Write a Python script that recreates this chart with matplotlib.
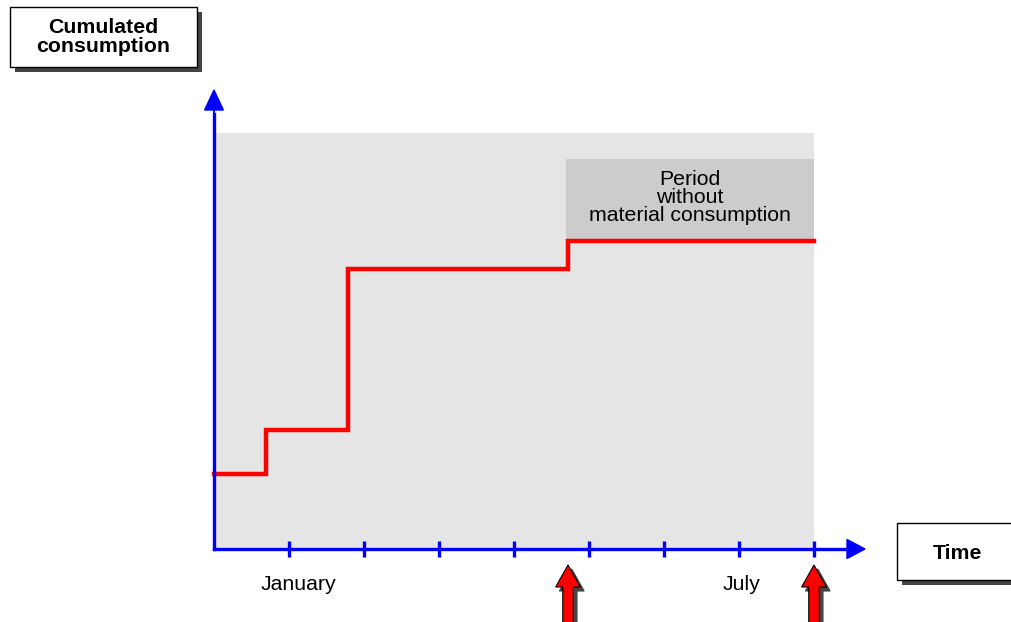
import matplotlib.pyplot as plt
from matplotlib.patches import Rectangle, FancyArrow

plt.rcParams["font.family"] = ["Liberation Sans", "DejaVu Sans"]

# x in months from the origin, y in arbitrary consumption units
step_x = [0.0, 0.69, 1.79, 4.72, 8.0]
step_y = [7.5, 11.9, 28.0, 30.8, 30.8]
tick_x = [1, 2, 3, 4, 5, 6, 7, 8]
month_labels = ["January", "July"]
month_pos = [1.12, 7.03]
order_x = [4.72, 8.0]  # red arrows
period_x = (4.69, 8.0)
period_y = (30.9, 39.0)
area_top = 41.6

W, H = 1011, 622
fig = plt.figure(figsize=(W / 100, H / 100), dpi=100)
ax = fig.add_axes([0, 0, 1, 1])
ax.set_xlim(-214 / 75, (W - 214) / 75)
ax.set_ylim(-7.3, 54.9)
ax.axis("off")

# grey background area
ax.add_patch(Rectangle((0, 0), 8, area_top, facecolor="#e5e5e5", edgecolor="none", zorder=0))

# period without consumption
ax.add_patch(Rectangle((period_x[0], period_y[0]), period_x[1] - period_x[0],
                       period_y[1] - period_y[0], facecolor="#cccccc",
                       edgecolor="none", zorder=1))
ax.text(sum(period_x) / 2, sum(period_y) / 2 + 0.2,
        "Period\nwithout\nmaterial consumption",
        ha="center", va="center", fontsize=15.3, linespacing=0.96, zorder=2)

# cumulated consumption step line
ax.step(step_x, step_y, where="post", color="red", lw=3.2, zorder=3,
        solid_joinstyle="miter")

# axes
blue = "#0000ff"
ax.plot([0, 8.5], [0, 0], color=blue, lw=2.4, zorder=4)
ax.plot([0, 0], [0, 43.5], color=blue, lw=2.4, zorder=4)
ax.add_patch(FancyArrow(8.45, 0, 0.23, 0, width=0.0, head_width=1.9,
                        head_length=0.24, color=blue, zorder=4,
                        length_includes_head=True))
ax.add_patch(FancyArrow(0, 43.0, 0, 2.9, width=0.0, head_width=0.25,
                        head_length=2.0, color=blue, zorder=4,
                        length_includes_head=True))
ax.vlines(tick_x, -0.8, 0.8, color=blue, lw=2.4, zorder=4)

for lab, xp in zip(month_labels, month_pos):
    ax.text(xp, -3.6, lab, ha="center", va="center", fontsize=15.3)

# red arrows with shadow
for xo in order_x:
    for dx, dy, fc, ec, z in [(0.05, -0.4, "#444444", "#444444", 5),
                              (0, 0, "red", "black", 6)]:
        ax.add_patch(FancyArrow(xo + dx, -8.0 + dy, 0, 6.4, width=0.14,
                                head_width=0.33, head_length=2.2,
                                length_includes_head=True, facecolor=fc,
                                edgecolor=ec, lw=0.8, zorder=z))


def label_box(x0, y0, w, h, text, dy=0):
    # pixel coords from top-left
    fx, fy = x0 / W, 1 - (y0 + h) / H
    fig.patches.append(Rectangle((fx + 5 / W, fy - 5 / H), w / W, h / H,
                                 transform=fig.transFigure, facecolor="#444444",
                                 edgecolor="none", zorder=7))
    fig.patches.append(Rectangle((fx, fy), w / W, h / H,
                                 transform=fig.transFigure, facecolor="white",
                                 edgecolor="black", lw=1, zorder=8))
    fig.text(fx + w / W / 2, fy + h / H / 2 - dy / H, text, ha="center",
             va="center", fontsize=15.3, fontweight="bold", linespacing=1.0,
             zorder=9)


label_box(10, 7, 187, 60, "Cumulated\nconsumption")
label_box(897, 523, 120, 57, "Time", dy=2)

fig.savefig("out.png", dpi=100)
